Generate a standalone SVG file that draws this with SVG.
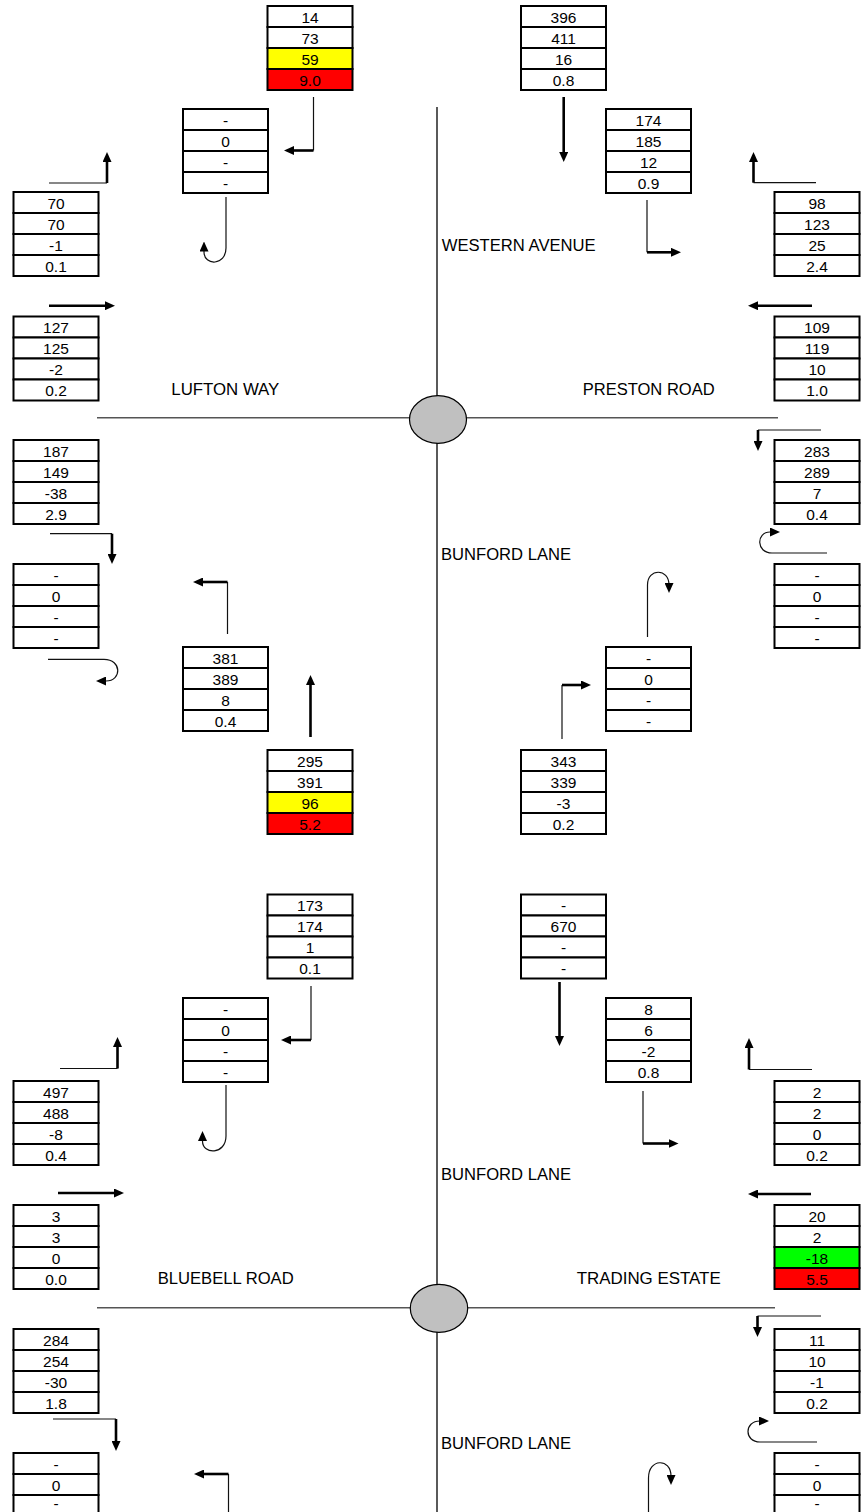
<svg xmlns="http://www.w3.org/2000/svg" width="861" height="1512" viewBox="0 0 861 1512">
<style>
.c{fill:#fff;stroke:#000;stroke-width:2}
.y{fill:#ffff00}
.r{fill:#ff0000}
.g{fill:#00ff00}
.t{font-family:"Liberation Sans",Arial,sans-serif;font-size:15.5px;text-anchor:middle;fill:#000}
.lbl{font-family:"Liberation Sans",Arial,sans-serif;font-size:16px;fill:#000}
.thin{fill:none;stroke:#111;stroke-width:1.2}
.thick{fill:none;stroke:#000;stroke-width:2.6}
.road{fill:none;stroke:#555;stroke-width:1.6}
.axis{fill:none;stroke:#000;stroke-width:1.3}
.rb{fill:#c0c0c0;stroke:#000;stroke-width:1.2}
</style>
<defs>
<marker id="ah" viewBox="0 0 10 9" refX="5" refY="4.5" markerWidth="10" markerHeight="9" markerUnits="userSpaceOnUse" orient="auto"><path d="M0,0 L10,4.5 L0,9 z" fill="#000"/></marker>
</defs>
<rect width="861" height="1512" fill="#fff"/>

<g id="roads">
<path class="axis" d="M437,107 V1512"/>
<path class="road" d="M97,417.7 H778"/>
<path class="road" d="M97,1307.7 H775"/>
<ellipse id="roundabout-1" class="rb" cx="438" cy="419.5" rx="28.5" ry="23.8"/>
<ellipse id="roundabout-2" class="rb" cx="439" cy="1308.3" rx="28.7" ry="24"/>
</g>

<g id="labels">
<text class="lbl" x="441.7" y="250.5" textLength="154" lengthAdjust="spacingAndGlyphs">WESTERN AVENUE</text>
<text class="lbl" x="171.3" y="395.3" textLength="108" lengthAdjust="spacingAndGlyphs">LUFTON WAY</text>
<text class="lbl" x="582.7" y="395.3" textLength="132" lengthAdjust="spacingAndGlyphs">PRESTON ROAD</text>
<text class="lbl" x="441" y="560" textLength="130" lengthAdjust="spacingAndGlyphs">BUNFORD LANE</text>
<text class="lbl" x="441" y="1179.5" textLength="130" lengthAdjust="spacingAndGlyphs">BUNFORD LANE</text>
<text class="lbl" x="157.7" y="1283.5" textLength="136" lengthAdjust="spacingAndGlyphs">BLUEBELL ROAD</text>
<text class="lbl" x="576.7" y="1283.5" textLength="144" lengthAdjust="spacingAndGlyphs">TRADING ESTATE</text>
<text class="lbl" x="441" y="1449" textLength="130" lengthAdjust="spacingAndGlyphs">BUNFORD LANE</text>
</g>

<g id="connectors">
<path class="thin" d="M313.5,97 V150.5"/><path class="thick" d="M313.5,150.5 H289" marker-end="url(#ah)"/>
<path class="thin" d="M49,183 H107"/><path class="thick" d="M107,183 V157" marker-end="url(#ah)"/>
<path class="thin" d="M226,197 V248 C226,266 204,266 204,252 V246.5" marker-end="url(#ah)"/>
<path class="thick" d="M563.7,97 V157" marker-end="url(#ah)"/>
<path class="thin" d="M647,200 V252.3"/><path class="thick" d="M647,252.3 H676" marker-end="url(#ah)"/>
<path class="thin" d="M816,182.7 H753.5"/><path class="thick" d="M753.5,182.7 V157" marker-end="url(#ah)"/>
<path class="thick" d="M49,305.7 H110" marker-end="url(#ah)"/>
<path class="thin" d="M50,533.7 H112"/><path class="thick" d="M112,533.7 V559" marker-end="url(#ah)"/>
<path class="thick" d="M812,305.7 H753" marker-end="url(#ah)"/>
<path class="thin" d="M821,430 H758"/><path class="thick" d="M758,430 V446" marker-end="url(#ah)"/>
<path class="thin" d="M827,553 H772 C756,553 756,532 770,532 H775" marker-end="url(#ah)"/>
<path class="thin" d="M48,659.3 H104 C122,659.3 122,681 106,681 H101" marker-end="url(#ah)"/>
<path class="thin" d="M227.5,634 V582"/><path class="thick" d="M227.5,582 H198" marker-end="url(#ah)"/>
<path class="thick" d="M310.5,737 V680" marker-end="url(#ah)"/>
<path class="thin" d="M647.5,637 V585 C647.5,568 669,568 669,585 V588" marker-end="url(#ah)"/>
<path class="thin" d="M562,739 V685"/><path class="thick" d="M562,685 H586" marker-end="url(#ah)"/>

<path class="thin" d="M311,986 V1040"/><path class="thick" d="M311,1040 H286" marker-end="url(#ah)"/>
<path class="thin" d="M60,1068.5 H117.5"/><path class="thick" d="M117.5,1068.5 V1042" marker-end="url(#ah)"/>
<path class="thin" d="M226,1085 V1136 C226,1155 202.5,1155 202.5,1141 V1136" marker-end="url(#ah)"/>
<path class="thick" d="M559.5,982 V1041" marker-end="url(#ah)"/>
<path class="thin" d="M643,1091 V1143.5"/><path class="thick" d="M643,1143.5 H673.5" marker-end="url(#ah)"/>
<path class="thin" d="M812,1069.5 H749"/><path class="thick" d="M749,1069.5 V1043" marker-end="url(#ah)"/>
<path class="thick" d="M58,1193 H119" marker-end="url(#ah)"/>
<path class="thin" d="M53,1419 H116"/><path class="thick" d="M116,1419 V1446" marker-end="url(#ah)"/>
<path class="thick" d="M811,1194 H753" marker-end="url(#ah)"/>
<path class="thin" d="M821,1316 H757.5"/><path class="thick" d="M757.5,1316 V1332" marker-end="url(#ah)"/>
<path class="thin" d="M817,1442 H760 C744,1442 744,1421 760,1421 H764" marker-end="url(#ah)"/>
<path class="thin" d="M228.5,1512 V1474"/><path class="thick" d="M228.5,1474 H199" marker-end="url(#ah)"/>
<path class="thin" d="M648.5,1512 V1478 C648.5,1458 671,1458 671,1476 V1480" marker-end="url(#ah)"/>
</g>

<g id="box-a" transform="translate(267.5,6)"><rect class="c" width="85" height="21"/><rect class="c" y="21" width="85" height="21"/><rect class="c y" y="42" width="85" height="21"/><rect class="c r" y="63" width="85" height="21"/><text class="t" x="42.5" y="16.5">14</text><text class="t" x="42.5" y="37.5">73</text><text class="t" x="42.5" y="58.5">59</text><text class="t" x="42.5" y="79.5">9.0</text></g>
<g id="box-b" transform="translate(183,109)"><rect class="c" width="85" height="21"/><rect class="c" y="21" width="85" height="21"/><rect class="c" y="42" width="85" height="21"/><rect class="c" y="63" width="85" height="21"/><text class="t" x="42.5" y="16.5">-</text><text class="t" x="42.5" y="37.5">0</text><text class="t" x="42.5" y="58.5">-</text><text class="t" x="42.5" y="79.5">-</text></g>
<g id="box-c" transform="translate(13.5,192)"><rect class="c" width="85" height="21"/><rect class="c" y="21" width="85" height="21"/><rect class="c" y="42" width="85" height="21"/><rect class="c" y="63" width="85" height="21"/><text class="t" x="42.5" y="16.5">70</text><text class="t" x="42.5" y="37.5">70</text><text class="t" x="42.5" y="58.5">-1</text><text class="t" x="42.5" y="79.5">0.1</text></g>
<g id="box-d" transform="translate(13.5,316.5)"><rect class="c" width="85" height="21"/><rect class="c" y="21" width="85" height="21"/><rect class="c" y="42" width="85" height="21"/><rect class="c" y="63" width="85" height="21"/><text class="t" x="42.5" y="16.5">127</text><text class="t" x="42.5" y="37.5">125</text><text class="t" x="42.5" y="58.5">-2</text><text class="t" x="42.5" y="79.5">0.2</text></g>
<g id="box-e" transform="translate(13.5,440)"><rect class="c" width="85" height="21"/><rect class="c" y="21" width="85" height="21"/><rect class="c" y="42" width="85" height="21"/><rect class="c" y="63" width="85" height="21"/><text class="t" x="42.5" y="16.5">187</text><text class="t" x="42.5" y="37.5">149</text><text class="t" x="42.5" y="58.5">-38</text><text class="t" x="42.5" y="79.5">2.9</text></g>
<g id="box-f" transform="translate(13.5,564)"><rect class="c" width="85" height="21"/><rect class="c" y="21" width="85" height="21"/><rect class="c" y="42" width="85" height="21"/><rect class="c" y="63" width="85" height="21"/><text class="t" x="42.5" y="16.5">-</text><text class="t" x="42.5" y="37.5">0</text><text class="t" x="42.5" y="58.5">-</text><text class="t" x="42.5" y="79.5">-</text></g>
<g id="box-g" transform="translate(183,647)"><rect class="c" width="85" height="21"/><rect class="c" y="21" width="85" height="21"/><rect class="c" y="42" width="85" height="21"/><rect class="c" y="63" width="85" height="21"/><text class="t" x="42.5" y="16.5">381</text><text class="t" x="42.5" y="37.5">389</text><text class="t" x="42.5" y="58.5">8</text><text class="t" x="42.5" y="79.5">0.4</text></g>
<g id="box-h" transform="translate(267.5,750)"><rect class="c" width="85" height="21"/><rect class="c" y="21" width="85" height="21"/><rect class="c y" y="42" width="85" height="21"/><rect class="c r" y="63" width="85" height="21"/><text class="t" x="42.5" y="16.5">295</text><text class="t" x="42.5" y="37.5">391</text><text class="t" x="42.5" y="58.5">96</text><text class="t" x="42.5" y="79.5">5.2</text></g>
<g id="box-i" transform="translate(521,6)"><rect class="c" width="85" height="21"/><rect class="c" y="21" width="85" height="21"/><rect class="c" y="42" width="85" height="21"/><rect class="c" y="63" width="85" height="21"/><text class="t" x="42.5" y="16.5">396</text><text class="t" x="42.5" y="37.5">411</text><text class="t" x="42.5" y="58.5">16</text><text class="t" x="42.5" y="79.5">0.8</text></g>
<g id="box-j" transform="translate(606,109)"><rect class="c" width="85" height="21"/><rect class="c" y="21" width="85" height="21"/><rect class="c" y="42" width="85" height="21"/><rect class="c" y="63" width="85" height="21"/><text class="t" x="42.5" y="16.5">174</text><text class="t" x="42.5" y="37.5">185</text><text class="t" x="42.5" y="58.5">12</text><text class="t" x="42.5" y="79.5">0.9</text></g>
<g id="box-k" transform="translate(774.5,192)"><rect class="c" width="85" height="21"/><rect class="c" y="21" width="85" height="21"/><rect class="c" y="42" width="85" height="21"/><rect class="c" y="63" width="85" height="21"/><text class="t" x="42.5" y="16.5">98</text><text class="t" x="42.5" y="37.5">123</text><text class="t" x="42.5" y="58.5">25</text><text class="t" x="42.5" y="79.5">2.4</text></g>
<g id="box-l" transform="translate(774.5,316.5)"><rect class="c" width="85" height="21"/><rect class="c" y="21" width="85" height="21"/><rect class="c" y="42" width="85" height="21"/><rect class="c" y="63" width="85" height="21"/><text class="t" x="42.5" y="16.5">109</text><text class="t" x="42.5" y="37.5">119</text><text class="t" x="42.5" y="58.5">10</text><text class="t" x="42.5" y="79.5">1.0</text></g>
<g id="box-m" transform="translate(774.5,440)"><rect class="c" width="85" height="21"/><rect class="c" y="21" width="85" height="21"/><rect class="c" y="42" width="85" height="21"/><rect class="c" y="63" width="85" height="21"/><text class="t" x="42.5" y="16.5">283</text><text class="t" x="42.5" y="37.5">289</text><text class="t" x="42.5" y="58.5">7</text><text class="t" x="42.5" y="79.5">0.4</text></g>
<g id="box-n" transform="translate(774.5,564)"><rect class="c" width="85" height="21"/><rect class="c" y="21" width="85" height="21"/><rect class="c" y="42" width="85" height="21"/><rect class="c" y="63" width="85" height="21"/><text class="t" x="42.5" y="16.5">-</text><text class="t" x="42.5" y="37.5">0</text><text class="t" x="42.5" y="58.5">-</text><text class="t" x="42.5" y="79.5">-</text></g>
<g id="box-o" transform="translate(606,647)"><rect class="c" width="85" height="21"/><rect class="c" y="21" width="85" height="21"/><rect class="c" y="42" width="85" height="21"/><rect class="c" y="63" width="85" height="21"/><text class="t" x="42.5" y="16.5">-</text><text class="t" x="42.5" y="37.5">0</text><text class="t" x="42.5" y="58.5">-</text><text class="t" x="42.5" y="79.5">-</text></g>
<g id="box-p" transform="translate(521,750)"><rect class="c" width="85" height="21"/><rect class="c" y="21" width="85" height="21"/><rect class="c" y="42" width="85" height="21"/><rect class="c" y="63" width="85" height="21"/><text class="t" x="42.5" y="16.5">343</text><text class="t" x="42.5" y="37.5">339</text><text class="t" x="42.5" y="58.5">-3</text><text class="t" x="42.5" y="79.5">0.2</text></g>

<g id="box-a2" transform="translate(267.5,894.5)"><rect class="c" width="85" height="21"/><rect class="c" y="21" width="85" height="21"/><rect class="c" y="42" width="85" height="21"/><rect class="c" y="63" width="85" height="21"/><text class="t" x="42.5" y="16.5">173</text><text class="t" x="42.5" y="37.5">174</text><text class="t" x="42.5" y="58.5">1</text><text class="t" x="42.5" y="79.5">0.1</text></g>
<g id="box-b2" transform="translate(183,998)"><rect class="c" width="85" height="21"/><rect class="c" y="21" width="85" height="21"/><rect class="c" y="42" width="85" height="21"/><rect class="c" y="63" width="85" height="21"/><text class="t" x="42.5" y="16.5">-</text><text class="t" x="42.5" y="37.5">0</text><text class="t" x="42.5" y="58.5">-</text><text class="t" x="42.5" y="79.5">-</text></g>
<g id="box-c2" transform="translate(13.5,1081)"><rect class="c" width="85" height="21"/><rect class="c" y="21" width="85" height="21"/><rect class="c" y="42" width="85" height="21"/><rect class="c" y="63" width="85" height="21"/><text class="t" x="42.5" y="16.5">497</text><text class="t" x="42.5" y="37.5">488</text><text class="t" x="42.5" y="58.5">-8</text><text class="t" x="42.5" y="79.5">0.4</text></g>
<g id="box-d2" transform="translate(13.5,1205)"><rect class="c" width="85" height="21"/><rect class="c" y="21" width="85" height="21"/><rect class="c" y="42" width="85" height="21"/><rect class="c" y="63" width="85" height="21"/><text class="t" x="42.5" y="16.5">3</text><text class="t" x="42.5" y="37.5">3</text><text class="t" x="42.5" y="58.5">0</text><text class="t" x="42.5" y="79.5">0.0</text></g>
<g id="box-e2" transform="translate(13.5,1329)"><rect class="c" width="85" height="21"/><rect class="c" y="21" width="85" height="21"/><rect class="c" y="42" width="85" height="21"/><rect class="c" y="63" width="85" height="21"/><text class="t" x="42.5" y="16.5">284</text><text class="t" x="42.5" y="37.5">254</text><text class="t" x="42.5" y="58.5">-30</text><text class="t" x="42.5" y="79.5">1.8</text></g>
<g id="box-f2" transform="translate(13.5,1453)"><rect class="c" width="85" height="21"/><rect class="c" y="21" width="85" height="21"/><rect class="c" y="42" width="85" height="21"/><rect class="c" y="63" width="85" height="21"/><text class="t" x="42.5" y="16.5">-</text><text class="t" x="42.5" y="37.5">0</text><text class="t" x="42.5" y="56">-</text></g>
<g id="box-i2" transform="translate(521,894.5)"><rect class="c" width="85" height="21"/><rect class="c" y="21" width="85" height="21"/><rect class="c" y="42" width="85" height="21"/><rect class="c" y="63" width="85" height="21"/><text class="t" x="42.5" y="16.5">-</text><text class="t" x="42.5" y="37.5">670</text><text class="t" x="42.5" y="58.5">-</text><text class="t" x="42.5" y="79.5">-</text></g>
<g id="box-j2" transform="translate(606,998)"><rect class="c" width="85" height="21"/><rect class="c" y="21" width="85" height="21"/><rect class="c" y="42" width="85" height="21"/><rect class="c" y="63" width="85" height="21"/><text class="t" x="42.5" y="16.5">8</text><text class="t" x="42.5" y="37.5">6</text><text class="t" x="42.5" y="58.5">-2</text><text class="t" x="42.5" y="79.5">0.8</text></g>
<g id="box-k2" transform="translate(774.5,1081)"><rect class="c" width="85" height="21"/><rect class="c" y="21" width="85" height="21"/><rect class="c" y="42" width="85" height="21"/><rect class="c" y="63" width="85" height="21"/><text class="t" x="42.5" y="16.5">2</text><text class="t" x="42.5" y="37.5">2</text><text class="t" x="42.5" y="58.5">0</text><text class="t" x="42.5" y="79.5">0.2</text></g>
<g id="box-l2" transform="translate(774.5,1205)"><rect class="c" width="85" height="21"/><rect class="c" y="21" width="85" height="21"/><rect class="c g" y="42" width="85" height="21"/><rect class="c r" y="63" width="85" height="21"/><text class="t" x="42.5" y="16.5">20</text><text class="t" x="42.5" y="37.5">2</text><text class="t" x="42.5" y="58.5">-18</text><text class="t" x="42.5" y="79.5">5.5</text></g>
<g id="box-m2" transform="translate(774.5,1329)"><rect class="c" width="85" height="21"/><rect class="c" y="21" width="85" height="21"/><rect class="c" y="42" width="85" height="21"/><rect class="c" y="63" width="85" height="21"/><text class="t" x="42.5" y="16.5">11</text><text class="t" x="42.5" y="37.5">10</text><text class="t" x="42.5" y="58.5">-1</text><text class="t" x="42.5" y="79.5">0.2</text></g>
<g id="box-n2" transform="translate(774.5,1453)"><rect class="c" width="85" height="21"/><rect class="c" y="21" width="85" height="21"/><rect class="c" y="42" width="85" height="21"/><rect class="c" y="63" width="85" height="21"/><text class="t" x="42.5" y="16.5">-</text><text class="t" x="42.5" y="37.5">0</text><text class="t" x="42.5" y="56">-</text></g>
</svg>
